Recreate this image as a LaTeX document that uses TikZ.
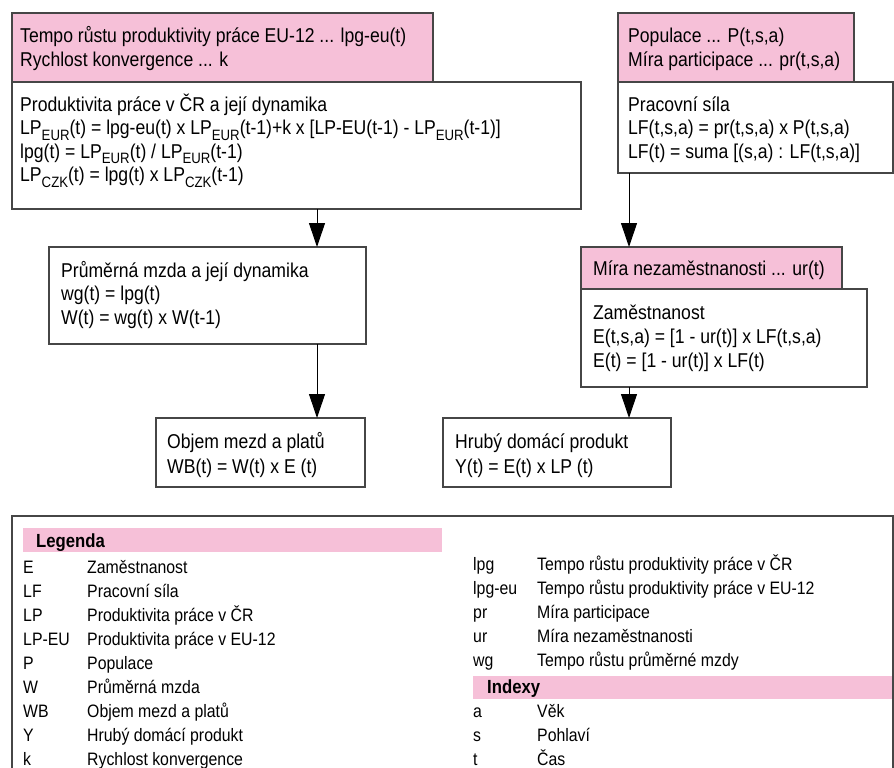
\documentclass[tikz,border=0pt]{standalone}
\usepackage{fontspec}
\setmainfont{Liberation Sans}[FakeStretch=0.88]
\usetikzlibrary{arrows.meta}
\definecolor{pinkc}{RGB}{246,192,216}
\definecolor{edgec}{RGB}{70,70,70}
\newcommand\lsub[1]{\raisebox{-5.5pt}{\fontsize{15}{15}\selectfont #1}}
\begin{document}
\begin{tikzpicture}[x=1pt,y=-1pt,
  box/.style={draw=edgec, line width=1.2pt, fill=white, inner sep=0pt, outer sep=0pt, anchor=north west},
  pinkbox/.style={box, fill=pinkc},
  bar/.style={fill=pinkc, inner sep=0pt, outer sep=0pt, anchor=north west},
  tx/.style={anchor=base west, inner sep=0pt, font=\fontsize{20}{24}\selectfont},
  lg/.style={anchor=base west, inner sep=0pt, font=\fontsize{18}{20}\selectfont},
  lgh/.style={anchor=base west, inner sep=0pt, font=\fontsize{19}{20}\selectfont\bfseries},
  arr/.style={draw=black, line width=1pt, -{Triangle[length=24pt,width=16pt]}},
]
\useasboundingbox (0,0) rectangle (894,768);
\clip (0,0) rectangle (894,768);

% ---- left column boxes
\node[box, minimum width=569pt, minimum height=127pt] (w1) at (12,82) {};
\node[pinkbox, minimum width=421pt, minimum height=69pt] (p1) at (12,13) {};
\node[tx] (p1a) at (20,43) {Tempo růstu produktivity práce EU-12 ... lpg-eu(t)};
\node[tx] (p1b) at (20,66.5) {Rychlost konvergence ... k};
\node[tx] (w1a) at (20,111) {Produktivita práce v ČR a její dynamika};
\node[tx] (w1b) at (20,134.5) {LP\lsub{EUR}(t) = lpg-eu(t) x LP\lsub{EUR}(t-1)+k x [LP-EU(t-1) - LP\lsub{EUR}(t-1)]};
\node[tx] (w1c) at (20,158) {lpg(t) = LP\lsub{EUR}(t) / LP\lsub{EUR}(t-1)};
\node[tx] (w1d) at (20,181.5) {LP\lsub{CZK}(t) = lpg(t) x LP\lsub{CZK}(t-1)};

\node[box, minimum width=317pt, minimum height=97pt] (w2) at (49,247) {};
\node[tx] (w2a) at (61,277) {Průměrná mzda a její dynamika};
\node[tx] (w2b) at (61,300.5) {wg(t) = lpg(t)};
\node[tx] (w2c) at (61,324) {W(t) = wg(t) x W(t-1)};

\node[box, minimum width=209pt, minimum height=69pt] (w3) at (156,418) {};
\node[tx] (w3a) at (167,448) {Objem mezd a platů};
\node[tx] (w3b) at (167,473) {WB(t) = W(t) x E (t)};

% ---- right column boxes
\node[box, minimum width=275pt, minimum height=91pt] (w4) at (618,82) {};
\node[pinkbox, minimum width=236pt, minimum height=69pt] (p2) at (618,13) {};
\node[tx] (p2a) at (628,43) {Populace ... P(t,s,a)};
\node[tx] (p2b) at (628,66.5) {Míra participace ... pr(t,s,a)};
\node[tx] (w4a) at (628,111) {Pracovní síla};
\node[tx] (w4b) at (628,134.5) {LF(t,s,a) = pr(t,s,a) x P(t,s,a)};
\node[tx] (w4c) at (628,158) {LF(t) = suma [(s,a) : LF(t,s,a)]};

\node[box, minimum width=286pt, minimum height=98pt] (w5) at (581,289) {};
\node[pinkbox, minimum width=261pt, minimum height=42pt] (p3) at (581,247) {};
\node[tx] (p3a) at (593,275.5) {Míra nezaměstnanosti ... ur(t)};
\node[tx] (w5a) at (593,319) {Zaměstnanost};
\node[tx] (w5b) at (593,343) {E(t,s,a) = [1 - ur(t)] x LF(t,s,a)};
\node[tx] (w5c) at (593,367) {E(t) = [1 - ur(t)] x LF(t)};

\node[box, minimum width=228pt, minimum height=69pt] (w6) at (443,418) {};
\node[tx] (w6a) at (455,448) {Hrubý domácí produkt};
\node[tx] (w6b) at (455,473) {Y(t) = E(t) x LP (t)};

% ---- connectors
\coordinate (cl) at (317,0);
\coordinate (cr) at (629,0);
\draw[arr] (cl |- w1.south) -- (cl |- w2.north);
\draw[arr] (cl |- w2.south) -- (cl |- w3.north);
\draw[arr] (cr |- w4.south) -- (cr |- p3.north);
\draw[arr] (cr |- w5.south) -- (cr |- w6.north);

% ---- legend
\node[box, minimum width=881pt, minimum height=320pt] (leg) at (12,516) {};
\node[bar, minimum width=419pt, minimum height=24pt] (legbar) at (23,528) {};
\node[lgh] (legt) at (36,547) {Legenda};
\foreach \a/\d [count=\i] in {E/Zaměstnanost, LF/Pracovní síla, LP/Produktivita práce v ČR,
  LP-EU/Produktivita práce v EU-12, P/Populace, W/Průměrná mzda, WB/Objem mezd a platů,
  Y/Hrubý domácí produkt, k/Rychlost konvergence}{
  \node[lg] (la\i) at (23,549+24*\i) {\a};
  \node[lg] (ld\i) at (87,549+24*\i) {\d};
}
\foreach \a/\d [count=\i] in {lpg/Tempo růstu produktivity práce v ČR,
  lpg-eu/Tempo růstu produktivity práce v EU-12, pr/Míra participace,
  ur/Míra nezaměstnanosti, wg/Tempo růstu průměrné mzdy}{
  \node[lg] (ra\i) at (473,546+24*\i) {\a};
  \node[lg] (rd\i) at (537,546+24*\i) {\d};
}
\node[bar, minimum width=419pt, minimum height=23pt] (idxbar) at (473,676) {};
\node[lgh] (idxt) at (487,693) {Indexy};
\foreach \a/\d [count=\i] in {a/Věk, s/Pohlaví, t/Čas}{
  \node[lg] (ia\i) at (473,693+24*\i) {\a};
  \node[lg] (id\i) at (537,693+24*\i) {\d};
}
\end{tikzpicture}
\end{document}
